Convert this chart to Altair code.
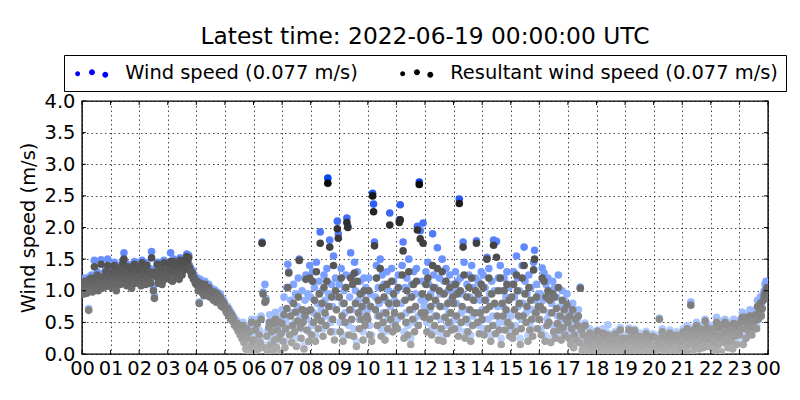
import altair as alt
import numpy as np
import pandas as pd

TITLE = "Latest time: 2022-06-19 00:00:00 UTC"
LABEL_WIND = "Wind speed (0.077 m/s)"
LABEL_RES = "Resultant wind speed (0.077 m/s)"
Y_TITLE = "Wind speed (m/s)"

# samples every 2 minutes, one row of 30 values per hour (00 ... 23)
WIND_SPEED = [
    1.05, 1.12, 0.98, 1.20, 1.08, 1.00, 1.15, 0.72, 1.22, 1.10, 1.25, 1.02, 1.18, 1.48, 1.10, 1.20, 1.30, 1.05, 1.15, 1.25, 1.49, 1.08, 1.18, 1.28, 1.12, 1.35, 1.20, 1.50, 1.15, 1.30,
    1.28, 1.10, 1.35, 1.22, 1.45, 1.18, 1.05, 1.32, 1.40, 1.25, 1.15, 1.38, 1.30, 1.48, 1.60, 1.22, 1.36, 1.12, 1.42, 1.26, 1.20, 1.34, 1.08, 1.40, 1.28, 1.46, 1.18, 1.32, 1.24, 1.38,
    1.25, 1.40, 1.12, 1.48, 1.30, 1.20, 1.36, 1.15, 1.44, 1.28, 1.22, 1.35, 1.18, 1.62, 1.30, 1.05, 0.92, 1.35, 1.26, 1.45, 1.18, 1.32, 1.25, 1.40, 1.15, 1.30, 1.48, 1.22, 1.36, 1.28,
    1.30, 1.25, 1.45, 1.60, 1.38, 1.20, 1.50, 1.32, 1.42, 1.28, 1.48, 1.35, 1.22, 1.52, 1.40, 1.30, 1.45, 1.38, 1.50, 1.42, 1.58, 1.48, 1.56, 1.40, 1.35, 1.28, 1.32, 1.22, 1.25, 1.18,
    1.15, 1.20, 1.05, 0.82, 1.18, 1.08, 1.00, 1.12, 0.95, 1.15, 1.02, 1.06, 0.98, 1.10, 0.92, 1.05, 0.95, 1.00, 0.88, 1.02, 0.92, 0.85, 0.98, 0.90, 0.85, 0.95, 0.80, 0.88, 0.78, 0.84,
    0.78, 0.72, 0.68, 0.75, 0.62, 0.70, 0.58, 0.65, 0.55, 0.60, 0.50, 0.55, 0.45, 0.52, 0.40, 0.48, 0.35, 0.42, 0.28, 0.50, 0.22, 0.35, 0.12, 0.45, 0.30, 0.05, 0.40, 0.18, 0.55, 0.25,
    0.30, 0.05, 0.45, 0.20, 0.55, 0.12, 0.38, 0.25, 0.60, 1.77, 0.98, 0.15, 1.10, 0.88, 0.35, 0.08, 0.50, 0.62, 0.20, 0.42, 0.10, 0.55, 0.28, 0.66, 0.15, 0.45, 0.32, 0.58, 0.05, 0.40,
    0.70, 0.35, 0.90, 0.20, 0.55, 1.05, 1.42, 1.30, 0.45, 0.85, 0.30, 0.65, 1.10, 0.50, 0.95, 0.25, 0.75, 1.20, 1.50, 0.60, 0.40, 1.00, 0.70, 0.15, 0.85, 1.25, 0.55, 0.95, 0.35, 1.40,
    0.90, 0.45, 1.30, 0.65, 1.05, 0.30, 1.45, 0.80, 0.55, 1.15, 1.93, 0.70, 1.00, 0.40, 1.25, 0.85, 0.60, 1.35, 2.78, 0.95, 1.80, 0.50, 1.10, 0.75, 1.55, 0.35, 1.20, 0.90, 2.10, 1.90,
    1.10, 0.50, 1.35, 0.80, 0.30, 1.00, 0.65, 1.25, 2.15, 2.02, 0.45, 0.90, 1.60, 0.70, 1.25, 0.40, 1.45, 1.00, 0.20, 1.30, 0.85, 0.55, 1.15, 0.70, 0.95, 0.35, 1.20, 0.60, 1.05, 0.80,
    0.70, 1.20, 0.45, 0.95, 0.30, 2.54, 2.37, 1.77, 0.90, 1.40, 0.60, 1.05, 0.80, 1.50, 0.40, 1.25, 0.65, 1.10, 0.35, 0.85, 1.30, 0.55, 1.00, 2.23, 0.75, 1.35, 0.50, 1.15, 0.85, 0.60,
    1.00, 0.55, 1.25, 2.12, 2.36, 0.80, 1.40, 1.77, 0.35, 1.05, 0.65, 1.20, 0.45, 1.50, 0.90, 0.25, 1.10, 0.70, 1.30, 0.50, 0.95, 1.35, 2.02, 0.60, 2.72, 1.95, 0.85, 1.15, 2.07, 0.75,
    0.85, 1.30, 0.50, 1.45, 1.10, 0.70, 0.95, 0.40, 1.90, 1.25, 0.60, 1.05, 0.80, 1.68, 0.35, 1.20, 0.95, 0.55, 1.50, 0.30, 1.15, 0.75, 1.35, 0.45, 1.00, 0.65, 1.25, 0.85, 0.50, 1.10,
    1.00, 0.55, 1.30, 0.80, 1.15, 0.40, 2.45, 1.20, 0.65, 0.95, 1.77, 1.45, 0.35, 0.70, 1.10, 0.50, 1.25, 0.90, 0.30, 1.40, 0.60, 1.05, 0.85, 1.20, 1.79, 0.65, 1.15, 0.45, 0.85, 1.30,
    0.70, 1.25, 0.40, 1.05, 0.85, 1.53, 0.55, 1.35, 0.95, 0.30, 1.15, 0.60, 1.80, 1.00, 0.45, 1.78, 0.75, 1.20, 0.50, 1.40, 0.25, 1.00, 0.75, 1.20, 0.50, 0.90, 1.30, 0.65, 1.05, 0.40,
    0.60, 1.10, 0.35, 1.30, 0.90, 0.45, 1.55, 1.20, 0.75, 1.00, 0.25, 0.55, 1.40, 0.80, 1.69, 1.15, 0.65, 0.95, 0.30, 1.25, 0.50, 1.05, 0.70, 0.40, 1.45, 1.64, 0.85, 1.10, 0.55, 0.95,
    0.70, 0.95, 0.40, 1.36, 0.85, 1.28, 0.30, 1.10, 0.55, 1.20, 0.65, 1.00, 0.25, 0.80, 1.15, 0.45, 1.05, 0.35, 0.90, 0.60, 1.25, 0.50, 0.75, 0.30, 1.00, 0.55, 0.85, 0.40, 0.70, 0.95,
    0.60, 0.35, 0.75, 0.20, 0.50, 0.80, 0.15, 0.40, 0.62, 0.30, 0.55, 0.70, 0.25, 1.06, 0.45, 0.10, 0.38, 0.20, 0.49, 0.12, 0.30, 0.05, 0.25, 0.40, 0.15, 0.32, 0.08, 0.22, 0.35, 0.18,
    0.20, 0.38, 0.10, 0.25, 0.05, 0.30, 0.15, 0.40, 0.08, 0.22, 0.35, 0.12, 0.46, 0.28, 0.03, 0.18, 0.32, 0.10, 0.24, 0.06, 0.36, 0.14, 0.27, 0.02, 0.20, 0.42, 0.09, 0.30, 0.16, 0.25,
    0.10, 0.30, 0.18, 0.05, 0.41, 0.25, 0.12, 0.35, 0.08, 0.22, 0.39, 0.15, 0.28, 0.04, 0.20, 0.33, 0.10, 0.26, 0.06, 0.18, 0.30, 0.14, 0.36, 0.03, 0.22, 0.12, 0.28, 0.07, 0.19, 0.32,
    0.22, 0.15, 0.08, 0.30, 0.18, 0.25, 0.57, 0.30, 0.12, 0.40, 0.20, 0.35, 0.05, 0.28, 0.15, 0.33, 0.10, 0.38, 0.22, 0.06, 0.30, 0.18, 0.26, 0.12, 0.35, 0.04, 0.24, 0.14, 0.32, 0.20,
    0.25, 0.40, 0.15, 0.35, 0.10, 0.45, 0.30, 0.20, 0.38, 0.82, 0.28, 0.05, 0.42, 0.18, 0.32, 0.50, 0.22, 0.36, 0.12, 0.45, 0.28, 0.40, 0.15, 0.33, 0.55, 0.25, 0.48, 0.18, 0.38, 0.30,
    0.30, 0.15, 0.45, 0.25, 0.40, 0.10, 0.58, 0.35, 0.20, 0.48, 0.30, 0.05, 0.52, 0.38, 0.22, 0.55, 0.28, 0.42, 0.15, 0.50, 0.35, 0.25, 0.45, 0.12, 0.55, 0.32, 0.40, 0.20, 0.50, 0.38,
    0.35, 0.55, 0.45, 0.66, 0.20, 0.60, 0.45, 0.30, 0.55, 0.62, 0.40, 0.70, 0.50, 0.35, 0.62, 0.48, 0.58, 0.70, 0.45, 0.85, 0.62, 0.75, 0.90, 0.68, 0.82, 0.95, 1.00, 1.10, 1.15, 1.12,
]

RESULTANT = [
    1.00, 1.08, 0.95, 1.15, 1.04, 0.96, 1.10, 0.69, 1.18, 1.05, 1.20, 0.98, 1.12, 1.38, 1.05, 1.15, 1.25, 1.00, 1.10, 1.20, 1.42, 1.04, 1.12, 1.22, 1.06, 1.30, 1.15, 1.40, 1.10, 1.25,
    1.22, 1.05, 1.30, 1.18, 1.40, 1.12, 1.00, 1.28, 1.36, 1.20, 1.10, 1.33, 1.25, 1.44, 1.50, 1.18, 1.30, 1.08, 1.38, 1.22, 1.15, 1.30, 1.04, 1.35, 1.22, 1.42, 1.12, 1.28, 1.20, 1.33,
    1.20, 1.35, 1.08, 1.44, 1.25, 1.15, 1.32, 1.10, 1.40, 1.22, 1.18, 1.30, 1.12, 1.52, 1.25, 1.00, 0.88, 1.30, 1.22, 1.42, 1.12, 1.28, 1.20, 1.35, 1.10, 1.25, 1.44, 1.18, 1.32, 1.24,
    1.25, 1.20, 1.40, 1.46, 1.33, 1.15, 1.46, 1.28, 1.38, 1.22, 1.44, 1.30, 1.18, 1.48, 1.36, 1.25, 1.42, 1.33, 1.46, 1.38, 1.54, 1.44, 1.52, 1.36, 1.30, 1.24, 1.28, 1.18, 1.20, 1.12,
    1.10, 1.15, 1.00, 0.80, 1.12, 1.04, 0.97, 1.08, 0.92, 1.10, 0.98, 1.02, 0.95, 1.05, 0.90, 1.00, 0.92, 0.96, 0.85, 0.98, 0.88, 0.82, 0.95, 0.86, 0.82, 0.90, 0.76, 0.84, 0.74, 0.80,
    0.75, 0.68, 0.65, 0.72, 0.60, 0.66, 0.55, 0.62, 0.52, 0.56, 0.46, 0.50, 0.42, 0.48, 0.36, 0.44, 0.30, 0.38, 0.24, 0.45, 0.18, 0.30, 0.08, 0.40, 0.25, 0.02, 0.35, 0.12, 0.50, 0.20,
    0.22, 0.02, 0.38, 0.12, 0.48, 0.08, 0.30, 0.18, 0.55, 1.75, 0.95, 0.10, 0.82, 0.84, 0.28, 0.04, 0.42, 0.50, 0.14, 0.35, 0.06, 0.48, 0.22, 0.55, 0.10, 0.38, 0.25, 0.50, 0.02, 0.32,
    0.48, 0.20, 0.62, 0.10, 0.40, 0.72, 1.05, 1.28, 0.30, 0.60, 0.18, 0.45, 0.80, 0.35, 0.66, 0.12, 0.52, 0.90, 1.48, 0.42, 0.25, 0.70, 0.50, 0.08, 0.60, 1.18, 0.38, 0.68, 0.20, 1.20,
    0.70, 0.30, 1.15, 0.50, 0.85, 0.20, 1.30, 0.60, 0.40, 0.95, 1.75, 0.52, 0.80, 0.28, 1.05, 0.65, 0.45, 1.15, 2.70, 0.75, 1.69, 0.35, 0.90, 0.55, 1.40, 0.22, 1.00, 0.70, 1.98, 1.83,
    0.90, 0.35, 1.20, 0.60, 0.20, 0.80, 0.50, 1.05, 2.08, 2.00, 0.30, 0.70, 1.20, 0.55, 1.10, 0.28, 1.28, 0.80, 0.12, 1.15, 0.65, 0.40, 0.95, 0.55, 0.75, 0.22, 1.00, 0.45, 0.85, 0.60,
    0.55, 1.00, 0.30, 0.75, 0.20, 2.50, 2.25, 1.71, 0.70, 1.20, 0.45, 0.85, 0.60, 1.35, 0.28, 1.05, 0.50, 0.90, 0.22, 0.65, 1.10, 0.40, 0.80, 2.04, 0.55, 1.15, 0.35, 0.95, 0.65, 0.45,
    0.80, 0.40, 1.05, 2.08, 2.12, 0.60, 1.25, 1.63, 0.25, 0.85, 0.50, 1.00, 0.30, 1.30, 0.70, 0.15, 0.90, 0.55, 1.10, 0.35, 0.75, 1.15, 1.96, 0.45, 2.68, 1.82, 0.65, 0.95, 1.75, 0.58,
    0.65, 1.10, 0.35, 1.20, 0.90, 0.55, 0.75, 0.30, 1.40, 1.05, 0.45, 0.85, 0.60, 1.35, 0.22, 1.00, 0.75, 0.40, 1.30, 0.20, 0.95, 0.58, 1.15, 0.32, 0.80, 0.50, 1.05, 0.65, 0.38, 0.90,
    0.80, 0.40, 1.10, 0.60, 0.95, 0.28, 2.38, 1.00, 0.50, 0.75, 1.69, 1.25, 0.25, 0.55, 0.90, 0.35, 1.05, 0.70, 0.20, 1.20, 0.45, 0.85, 0.65, 1.00, 1.75, 0.50, 0.95, 0.32, 0.65, 1.10,
    0.55, 1.05, 0.30, 0.85, 0.70, 1.50, 0.40, 1.20, 0.75, 0.20, 0.95, 0.45, 1.72, 0.80, 0.32, 1.53, 0.60, 1.00, 0.38, 1.20, 0.15, 0.80, 0.60, 1.00, 0.38, 0.70, 1.10, 0.50, 0.85, 0.28,
    0.45, 0.90, 0.25, 1.10, 0.70, 0.35, 1.25, 1.00, 0.60, 0.80, 0.15, 0.40, 1.20, 0.60, 1.40, 0.95, 0.50, 0.75, 0.20, 1.05, 0.38, 0.85, 0.55, 0.28, 1.33, 1.50, 0.65, 0.90, 0.40, 0.75,
    0.55, 0.75, 0.30, 1.20, 0.70, 1.15, 0.20, 0.90, 0.45, 1.00, 0.50, 0.85, 0.18, 0.65, 0.95, 0.35, 0.90, 0.25, 0.72, 0.48, 1.05, 0.38, 0.60, 0.22, 0.85, 0.42, 0.70, 0.30, 0.55, 0.78,
    0.50, 0.25, 0.60, 0.15, 0.40, 0.70, 0.10, 0.30, 0.55, 0.22, 0.45, 0.60, 0.18, 1.04, 0.38, 0.05, 0.30, 0.12, 0.45, 0.06, 0.22, 0.02, 0.18, 0.33, 0.10, 0.25, 0.04, 0.16, 0.28, 0.12,
    0.15, 0.36, 0.06, 0.20, 0.02, 0.25, 0.10, 0.33, 0.04, 0.18, 0.30, 0.08, 0.30, 0.22, 0.01, 0.12, 0.28, 0.06, 0.20, 0.03, 0.32, 0.10, 0.22, 0.01, 0.15, 0.38, 0.05, 0.25, 0.12, 0.20,
    0.06, 0.25, 0.12, 0.02, 0.38, 0.20, 0.08, 0.30, 0.05, 0.18, 0.37, 0.10, 0.23, 0.02, 0.15, 0.28, 0.06, 0.22, 0.03, 0.13, 0.25, 0.10, 0.32, 0.01, 0.18, 0.08, 0.24, 0.04, 0.14, 0.28,
    0.12, 0.10, 0.04, 0.25, 0.12, 0.20, 0.55, 0.25, 0.08, 0.35, 0.15, 0.30, 0.02, 0.22, 0.10, 0.28, 0.06, 0.33, 0.18, 0.03, 0.25, 0.13, 0.22, 0.08, 0.30, 0.02, 0.20, 0.10, 0.28, 0.15,
    0.20, 0.35, 0.10, 0.30, 0.06, 0.40, 0.25, 0.15, 0.32, 0.77, 0.22, 0.03, 0.38, 0.12, 0.28, 0.45, 0.18, 0.30, 0.08, 0.40, 0.22, 0.35, 0.10, 0.28, 0.52, 0.20, 0.42, 0.12, 0.32, 0.25,
    0.25, 0.10, 0.40, 0.20, 0.35, 0.06, 0.50, 0.30, 0.15, 0.42, 0.25, 0.03, 0.46, 0.32, 0.18, 0.50, 0.22, 0.38, 0.10, 0.45, 0.30, 0.20, 0.40, 0.08, 0.48, 0.28, 0.35, 0.15, 0.45, 0.32,
    0.30, 0.50, 0.40, 0.58, 0.15, 0.58, 0.40, 0.25, 0.50, 0.55, 0.35, 0.60, 0.45, 0.30, 0.55, 0.42, 0.52, 0.62, 0.40, 0.75, 0.55, 0.68, 0.80, 0.60, 0.72, 0.85, 0.92, 0.95, 1.00, 1.05,
]

HOUR_TICKS = list(range(0, 25))
SPEED_TICKS = [0.0, 0.5, 1.0, 1.5, 2.0, 2.5, 3.0, 3.5, 4.0]
SERIES_LABELS = [LABEL_WIND, LABEL_RES]
SERIES_COLORS = ["#0000ff", "#000000"]

FONT = "DejaVu Sans"
FS = 19.44
W, H = 686, 253

# sample times (hours after 00:00), 2-minute sampling
df_w = pd.DataFrame({"hour": np.arange(len(WIND_SPEED)) * 2 / 60.0, "speed": WIND_SPEED})
df_r = pd.DataFrame({"hour": np.arange(len(RESULTANT)) * 2 / 60.0, "speed": RESULTANT})
df_xt = pd.DataFrame({"hour": HOUR_TICKS})
df_yt = pd.DataFrame({"speed": SPEED_TICKS})
df_leg = pd.DataFrame({"series": SERIES_LABELS})

x_axis = alt.Axis(
    values=HOUR_TICKS, title=None, grid=True, ticks=False, domain=False,
    labelExpr="datum.value == 24 ? '00' : (datum.value < 10 ? '0' + datum.value : '' + datum.value)",
    labelOverlap=False, labelFlush=False, labelBound=False, labelPadding=5,
)
y_axis = alt.Axis(
    values=SPEED_TICKS, title=Y_TITLE, format=".1f", grid=True, ticks=False, domain=False,
    labelPadding=7, titlePadding=6, labelOverlap=False, labelFlush=False,
)
xs = alt.Scale(domain=[0, 24], nice=False, zero=False)
ys = alt.Scale(domain=[0, 4], nice=False)

X = alt.X("hour:Q", scale=xs, axis=x_axis)
Y = alt.Y("speed:Q", scale=ys, axis=y_axis)

wind = alt.Chart(df_w).mark_circle(size=58, opacity=1, clip=True).encode(
    x=X, y=Y,
    color=alt.Color("speed:Q", legend=None,
                    scale=alt.Scale(domain=[0, 2.8], range=["#cfe0ff", "#0044ee"], clamp=True)),
)
res = alt.Chart(df_r).mark_circle(size=58, opacity=1, clip=True).encode(
    x=X, y=Y,
    color=alt.Color("speed:Q", legend=None,
                    scale=alt.Scale(domain=[0, 2.8], range=["#b0b0b0", "#000000"], clamp=True)),
)

# legend symbol: three dots like matplotlib's scatter legend handle
def circ(cx, cy, r):
    return f"M{cx - r},{cy}A{r},{r},0,1,0,{cx + r},{cy}A{r},{r},0,1,0,{cx - r},{cy}Z"

unit = 8.5
dots = (circ(-13.8 / unit, 0.6 / unit, 2.5 / unit)
        + circ(0.5 / unit, -0.8 / unit, 3.0 / unit)
        + circ(13.8 / unit, 1.6 / unit, 3.0 / unit))

legend_layer = alt.Chart(df_leg).mark_circle(opacity=0).encode(
    color=alt.Color(
        "series:N",
        scale=alt.Scale(domain=SERIES_LABELS, range=SERIES_COLORS),
        legend=alt.Legend(
            title=None, orient="none", direction="horizontal", columns=2,
            legendX=-18, legendY=-46,
            symbolType=dots, symbolSize=(2 * unit) ** 2, symbolOpacity=1,
            symbolStrokeWidth=0, symbolOffset=9.75, labelOffset=24,
            columnPadding=39, padding=8,
            strokeColor="black", fillColor="white",
            labelFont=FONT, labelFontSize=FS, labelColor="black", labelLimit=0,
        ),
    ),
)

tick_bot = alt.Chart(df_xt).mark_rule(color="black", strokeWidth=1).encode(
    x=X, y=alt.value(H), y2=alt.value(H - 4))
tick_top = alt.Chart(df_xt).mark_rule(color="black", strokeWidth=1).encode(
    x=X, y=alt.value(0), y2=alt.value(4))
tick_left = alt.Chart(df_yt).mark_rule(color="black", strokeWidth=1).encode(
    y=Y, x=alt.value(0), x2=alt.value(4))
tick_right = alt.Chart(df_yt).mark_rule(color="black", strokeWidth=1).encode(
    y=Y, x=alt.value(W), x2=alt.value(W - 4))

chart = alt.layer(
    wind, res, tick_bot, tick_top, tick_left, tick_right, legend_layer
).resolve_scale(color="independent").properties(
    width=W, height=H,
    title=alt.TitleParams(TITLE, font=FONT, fontSize=23.33, fontWeight="normal",
                          color="black", anchor="middle", frame="group",
                          baseline="alphabetic", offset=12, dy=25),
    autosize=alt.AutoSizeParams(type="none"),
    padding={"left": 74, "top": 93, "right": 24, "bottom": 38},
).configure_view(
    stroke="black", strokeWidth=1.4,
).configure_axis(
    labelFont=FONT, labelFontSize=FS, labelColor="black",
    titleFont=FONT, titleFontSize=FS, titleFontWeight="normal", titleColor="black",
    gridColor="black", gridDash=[1.5, 3], gridWidth=0.8, gridOpacity=0.9,
)

chart.save("out.html", embed_options={"renderer": "svg", "actions": False})
